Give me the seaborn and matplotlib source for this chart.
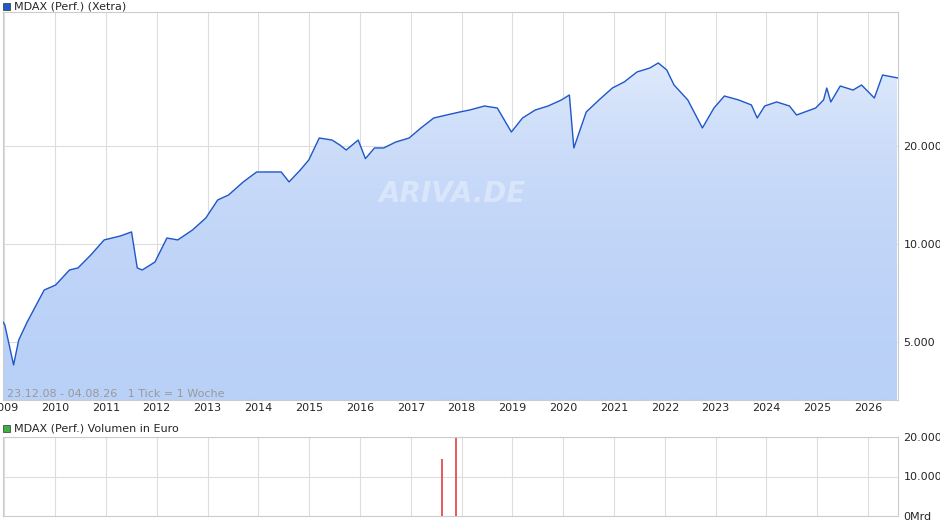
import matplotlib
matplotlib.use("Agg")
import matplotlib.pyplot as plt
import matplotlib.dates as mdates
import seaborn as sns
import pandas as pd
import numpy as np
from matplotlib.patches import Rectangle
from matplotlib.colors import LinearSegmentedColormap

dates = ["2008-12-23","2009-01-05","2009-03-09","2009-04-15","2009-06-15","2009-10-15","2010-01-05",
 "2010-04-15","2010-06-15","2010-09-15","2010-12-20","2011-04-15","2011-07-05","2011-08-15","2011-09-20",
 "2011-12-20","2012-03-15","2012-06-01","2012-09-15","2012-12-20","2013-03-15","2013-06-01","2013-09-15",
 "2013-12-20","2014-03-15","2014-06-15","2014-08-10","2014-10-30","2014-12-30","2015-03-15","2015-06-15",
 "2015-08-10","2015-09-25","2015-12-20","2016-02-10","2016-04-15","2016-06-20","2016-09-15","2016-12-20",
 "2017-03-15","2017-06-15","2017-09-15","2017-12-20","2018-03-01","2018-06-15","2018-09-15","2018-12-25",
 "2019-03-15","2019-06-15","2019-09-15","2019-12-20","2020-02-15","2020-03-18","2020-06-15","2020-09-15",
 "2020-12-20","2021-03-15","2021-06-15","2021-09-15","2021-11-15","2022-01-15","2022-03-08","2022-06-15",
 "2022-09-28","2022-12-20","2023-03-05","2023-06-15","2023-09-15","2023-10-27","2023-12-20","2024-03-15",
 "2024-06-15","2024-08-05","2024-12-20","2025-02-15","2025-03-10","2025-04-08","2025-06-15","2025-09-15",
 "2025-11-15","2026-02-15","2026-04-15","2026-08-04"]
values = [5760,5640,4250,5070,5760,7220,7480,8320,8440,9250,10290,10580,10890,8440,8320,8800,10430,10290,
 11040,12020,13650,14140,15510,16640,16640,16640,15510,16880,18120,21160,20860,20140,19440,20860,18290,
 19720,19720,20570,21160,22720,24380,24900,25440,25800,26540,26160,22080,24380,25800,26540,27700,28690,
 19720,25440,27700,30140,31460,33760,34720,35980,34240,30790,27700,22720,26160,28480,27700,26740,24380,
 26540,27310,26540,24900,26160,27700,30140,27310,30570,29710,30790,28080,33040,32350]
vol_dates = ["2009-01-05","2012-01-05","2015-01-05","2017-08-15","2017-11-20","2020-01-05","2023-01-05","2026-01-05"]
vol_values = [40,40,40,14500,20500,40,40,40]

df = pd.DataFrame({"date": pd.to_datetime(dates), "value": values})
vdf = pd.DataFrame({"date": pd.to_datetime(vol_dates), "vol": vol_values})

sns.set_style("white")
plt.rcParams['font.family'] = ['DejaVu Sans']
fig = plt.figure(figsize=(9.4, 5.26), dpi=100)
ax = fig.add_axes([3/940, 1-400/526, 895/940, 388/526])
ax2 = fig.add_axes([3/940, 1-516/526, 895/940, 79/526])

xmin, xmax = pd.Timestamp("2008-12-23"), pd.Timestamp("2026-08-04")
ax.set_yscale("log")
ymin, ymax = 3316, 51600
ax.set_ylim(ymin, ymax); ax.set_xlim(xmin, xmax)

x0, x1 = mdates.date2num(xmin), mdates.date2num(xmax)
grad = np.linspace(0, 1, 256).reshape(-1, 1)
cmap = LinearSegmentedColormap.from_list("g", ["#b9d0f7", "#f2f6fd"])
im = ax.imshow(grad, extent=[x0, x1, ymin, ymax], aspect="auto", cmap=cmap, origin="lower", zorder=1)
poly = ax.fill_between(df["date"], df["value"], ymin, color="none")
im.set_clip_path(poly.get_paths()[0], transform=ax.transData)
sns.lineplot(data=df, x="date", y="value", ax=ax, color="#1f57c7", lw=1, zorder=3)

years = [pd.Timestamp(f"{y}-01-01") for y in range(2009, 2027)]
ax.set_xticks(years)
ax.set_xticklabels([str(y) for y in range(2009, 2027)], fontsize=8)
ax.tick_params(axis="x", length=0, pad=2)
ax.yaxis.tick_right()
ax.minorticks_off()
ax.set_yticks([5000, 10000, 20000])
ax.set_yticklabels(["5.000", "10.000", "20.000"], fontsize=8)
ax.tick_params(axis="y", length=0, pad=4)
ax.grid(True, color="#dddddd", lw=0.8, zorder=0)
ax.set_axisbelow(True)
for s in ax.spines.values(): s.set_color("#cccccc")
ax.set_xlabel(""); ax.set_ylabel("")
ax.text(0.42, 0.51, "ARIVA.DE", transform=ax.transAxes, fontsize=20, color="white", alpha=0.35,
        fontstyle="italic", fontweight="bold", zorder=2)
ax.text(0.005, 0.003, "23.12.08 - 04.08.26   1 Tick = 1 Woche", transform=ax.transAxes,
        fontsize=8, color="#999999", va="bottom", zorder=4)

fig.patches.append(Rectangle((3/940, 1-10/526), 7/940, 7/526, transform=fig.transFigure,
                             facecolor="#1f57c7", edgecolor="#333333", lw=0.5))
fig.text(14/940, 1-6.5/526, "MDAX (Perf.) (Xetra)", fontsize=8, va="center")
fig.patches.append(Rectangle((3/940, 1-432/526), 7/940, 7/526, transform=fig.transFigure,
                             facecolor="#3cb043", edgecolor="#333333", lw=0.5))
fig.text(14/940, 1-428.5/526, "MDAX (Perf.) Volumen in Euro", fontsize=8, va="center")

ax2.vlines(vdf["date"], 0, vdf["vol"], color="#e04040", lw=1.2)
ax2.set_xlim(xmin, xmax); ax2.set_ylim(0, 20000)
ax2.set_xticks(years); ax2.set_xticklabels([])
ax2.tick_params(axis="x", length=0)
ax2.yaxis.tick_right()
ax2.set_yticks([0, 10000, 20000])
ax2.set_yticklabels(["0Mrd", "10.000M", "20.000M"], fontsize=8)
ax2.tick_params(axis="y", length=0, pad=4)
ax2.grid(True, color="#dddddd", lw=0.8)
for s in ax2.spines.values(): s.set_color("#cccccc")

fig.savefig("out.png", dpi=100)
